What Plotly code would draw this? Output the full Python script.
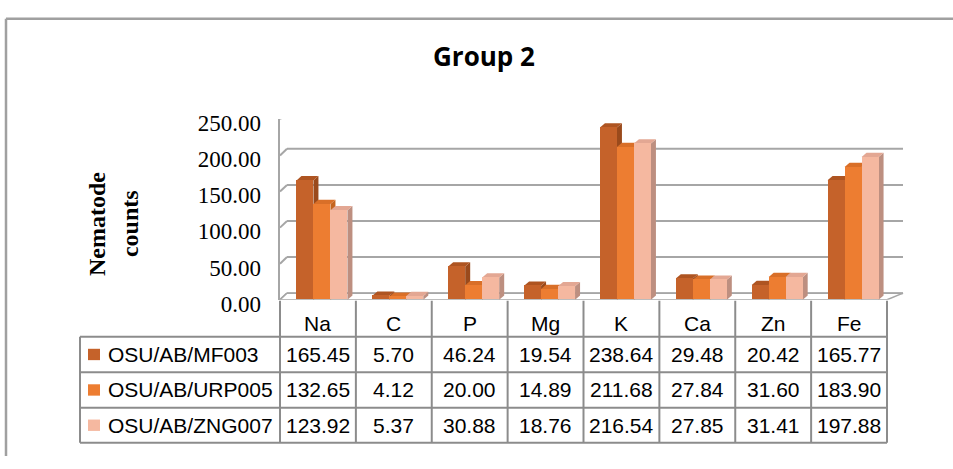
import plotly.graph_objects as go

# ---------------- data ----------------
categories = ["Na", "C", "P", "Mg", "K", "Ca", "Zn", "Fe"]
series_names = ["OSU/AB/MF003", "OSU/AB/URP005", "OSU/AB/ZNG007"]
mf003 = [165.45, 5.70, 46.24, 19.54, 238.64, 29.48, 20.42, 165.77]
urp005 = [132.65, 4.12, 20.00, 14.89, 211.68, 27.84, 31.60, 183.90]
zng007 = [123.92, 5.37, 30.88, 18.76, 216.54, 27.85, 31.41, 197.88]
y_ticks = [0, 50, 100, 150, 200, 250]
title_text = "Group 2"
y_title_lines = ["Nematode", "counts"]

# ---------------- styling / layout ----------------
W, H = 953, 469
front_col = ["#C5622A", "#ED7D31", "#F5B8A0"]
side_col = ["#9A4A1C", "#C4641F", "#BD8F80"]
top_col = ["#AE5421", "#D96F28", "#E3A793"]
grid_col = "#A6A6A6"
table_col = "#8C8C8C"

PL, PR = 280, 887          # front plot area (px)
Y0, YTOP = 304, 113.4      # pixel positions of 0 and 250 on front plane
BACK_L, BACK_R = 287, 903  # back wall horizontal extent
GRID_DY = 7                # back wall vertical shift (px)
ncat = len(categories)
ymax = y_ticks[-1]
xunit = (PR - PL) / ncat
yunit = (Y0 - YTOP) / ymax

def px(x):
    return x / W

def py(y):
    return 1 - y / H

bar_w = 17 / xunit
shift = 4 / xunit
dxu = 5 / xunit
dyu = 4.5 / yunit

series = [mf003, urp005, zng007]
xs = list(range(ncat))

fig = go.Figure()
shapes = []
annotations = []

# back wall gridlines + left slants
gdy = GRID_DY / yunit
for v in y_ticks:
    shapes.append(dict(type="line", xref="paper", yref="y", layer="below",
                       x0=px(BACK_L), x1=px(BACK_R), y0=v + gdy, y1=v + gdy,
                       line=dict(color=grid_col, width=2)))
    shapes.append(dict(type="line", xref="paper", yref="y", layer="below",
                       x0=px(PL), x1=px(BACK_L), y0=v, y1=v + gdy,
                       line=dict(color=grid_col, width=2)))
# floor
shapes.append(dict(type="path", xref="paper", yref="y", layer="below",
                   path=f"M{px(PL)},0 L{px(PR)},0 L{px(BACK_R)},{gdy} L{px(BACK_L)},{gdy} Z",
                   fillcolor="white", line=dict(color=grid_col, width=1.5)))

# bars
side_shapes, top_shapes = [], []
for j, (name, vals) in enumerate(zip(series_names, series)):
    off = -1.5 * bar_w + shift + j * bar_w
    fig.add_trace(go.Bar(x=xs, y=vals, name=name, offset=off, width=bar_w,
                         marker=dict(color=front_col[j], line=dict(width=0)),
                         showlegend=False, hoverinfo="y"))
    for i, v in enumerate(vals):
        xl = i + off
        xr = xl + bar_w
        side_shapes.append(dict(type="path", xref="x", yref="y", layer="below",
                                path=f"M{xr},0 L{xr},{v} L{xr+dxu},{v+dyu} L{xr+dxu},{dyu} Z",
                                fillcolor=side_col[j], line=dict(width=0)))
        top_shapes.append(dict(type="path", xref="x", yref="y", layer="below",
                               path=f"M{xl},{v} L{xr},{v} L{xr+dxu},{v+dyu} L{xl+dxu},{v+dyu} Z",
                               fillcolor=top_col[j], line=dict(width=0)))
shapes += side_shapes + top_shapes

# tick label carrier axis
fig.add_trace(go.Scatter(x=[None], y=[None], xaxis="x2", yaxis="y2",
                         showlegend=False, hoverinfo="skip"))

# ---------------- table ----------------
hdr_top, row_tops = 305, [343, 380.5, 418, 455]
tab_left = 80
col_edges = [PL + k * xunit for k in range(ncat + 1)]
for xe in col_edges:
    shapes.append(dict(type="line", xref="paper", yref="paper",
                       x0=px(xe), x1=px(xe), y0=py(hdr_top), y1=py(row_tops[-1]),
                       line=dict(color=table_col, width=2)))
for yr in row_tops:
    shapes.append(dict(type="line", xref="paper", yref="paper",
                       x0=px(tab_left), x1=px(PR), y0=py(yr), y1=py(yr),
                       line=dict(color=table_col, width=2)))
shapes.append(dict(type="line", xref="paper", yref="paper",
                   x0=px(tab_left), x1=px(tab_left), y0=py(row_tops[0]), y1=py(row_tops[-1]),
                   line=dict(color=table_col, width=2)))

tfont = dict(family="Liberation Sans, Arial, sans-serif", size=21, color="black")
for k, c in enumerate(categories):
    cx = (col_edges[k] + col_edges[k + 1]) / 2
    annotations.append(dict(x=px(cx), y=py(329), xref="paper", yref="paper",
                            text=c, showarrow=False, font=tfont,
                            xanchor="center", yanchor="middle"))
for r, (name, vals) in enumerate(zip(series_names, series)):
    cy = (row_tops[r] + row_tops[r + 1]) / 2
    shapes.append(dict(type="rect", xref="paper", yref="paper",
                       x0=px(88), x1=px(100), y0=py(cy - 6), y1=py(cy + 6),
                       fillcolor=front_col[r], line=dict(width=0)))
    annotations.append(dict(x=px(106), y=py(cy), xref="paper", yref="paper",
                            text=name, showarrow=False, font=tfont,
                            xanchor="left", yanchor="middle"))
    for k, v in enumerate(vals):
        cx = (col_edges[k] + col_edges[k + 1]) / 2
        annotations.append(dict(x=px(cx), y=py(cy), xref="paper", yref="paper",
                                text=f"{v:.2f}", showarrow=False, font=tfont,
                                xanchor="center", yanchor="middle"))

# outer border (left and top edges visible)
shapes.append(dict(type="line", xref="paper", yref="paper",
                   x0=px(6), x1=px(W), y0=py(7), y1=py(7),
                   line=dict(color="#A0A0A0", width=2.5)))
shapes.append(dict(type="line", xref="paper", yref="paper",
                   x0=px(6), x1=px(6), y0=py(7), y1=0,
                   line=dict(color="#A0A0A0", width=2.5)))

# title and y title
annotations.append(dict(x=px(484), y=py(47), xref="paper", yref="paper",
                        text=f"<b>{title_text}</b>", showarrow=False,
                        font=dict(family="Open Sans, sans-serif", size=26, color="black"),
                        xanchor="center", yanchor="middle"))
for k, (line, cx) in enumerate(zip(y_title_lines, [97, 130])):
    annotations.append(dict(x=px(cx), y=py(224), xref="paper", yref="paper",
                            text=f"<b>{line}</b>", showarrow=False, textangle=-90,
                            font=dict(family="Liberation Serif, Times New Roman, serif",
                                      size=24, color="black"),
                            xanchor="center", yanchor="middle"))

fig.update_layout(
    width=W, height=H,
    autosize=False,
    margin=dict(l=0, r=0, t=0, b=0, pad=0),
    paper_bgcolor="white", plot_bgcolor="rgba(0,0,0,0)",
    showlegend=False,
    xaxis=dict(domain=[px(PL), px(PR)], range=[-0.5, ncat - 0.5],
               showgrid=False, zeroline=False, showticklabels=False, showline=False,
               fixedrange=True),
    yaxis=dict(domain=[py(Y0), py(YTOP)], range=[0, ymax],
               showgrid=False, zeroline=False, showticklabels=False,
               showline=True, linecolor=grid_col, linewidth=2, fixedrange=True),
    xaxis2=dict(domain=[px(PL), px(PR)], range=[-0.5, ncat - 0.5], visible=False,
                anchor="y2"),
    yaxis2=dict(domain=[py(Y0 + 4), py(YTOP + 4)], range=[0, ymax], anchor="x2",
                tickvals=y_ticks, tickformat=".2f", ticks="",
                showgrid=False, zeroline=False, showline=False,
                ticklabelstandoff=18,
                tickfont=dict(family="Liberation Serif, Times New Roman, serif",
                              size=23, color="black")),
    shapes=shapes,
    annotations=annotations,
    bargap=0,
)

fig.write_html(
    "out.html",
    config={"responsive": False, "displayModeBar": False},
    post_script="document.documentElement.style.margin='0';"
                "document.body.style.margin='0';"
                "document.body.style.overflow='hidden';",
)
